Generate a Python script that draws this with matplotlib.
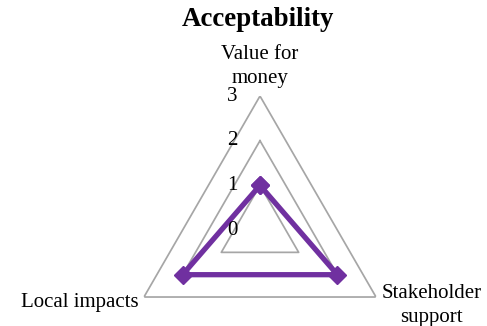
import numpy as np
import matplotlib.pyplot as plt

plt.rcParams["font.family"] = ["Liberation Serif", "DejaVu Serif"]

categories = ["Value for\nmoney", "Stakeholder\nsupport", "Local impacts"]
values = [1, 2, 2]
levels = [1, 2, 3]
tick_labels = ["0", "1", "2", "3"]

angles = np.linspace(0, 2 * np.pi, len(categories), endpoint=False)
closed = np.append(angles, angles[0])

fig = plt.figure(figsize=(4.87, 3.26), dpi=100)
ax = fig.add_axes([0.2587, -0.1166, 0.5503, 0.822], projection="polar")
ax.set_theta_offset(np.pi / 2)
ax.set_theta_direction(-1)
ax.set_ylim(0, 3)
ax.grid(False)
ax.spines["polar"].set_visible(False)
ax.set_xticks([])
ax.set_yticks([])
ax.patch.set_alpha(0)

# triangular gridlines
for lv in levels:
    ax.plot(closed, [lv] * len(closed), color="#a6a6a6", lw=1.25, zorder=1)

# data series
ax.plot(closed, values + values[:1], color="#7030a0", lw=3.8,
        marker="D", markersize=9, zorder=3, clip_on=False)

# value labels along the vertical axis
for i, lab in enumerate(tick_labels):
    ax.annotate(lab, xy=(0, i), xytext=(-20, 0), textcoords="offset points",
                ha="center", va="center", fontsize=15, annotation_clip=False)

# category labels
ax.annotate(categories[0], xy=(angles[0], 3), xytext=(0, 6), textcoords="offset points",
            ha="center", va="bottom", fontsize=15, linespacing=1.35, annotation_clip=False)
ax.annotate(categories[1], xy=(angles[1], 3), xytext=(4, -6), textcoords="offset points",
            ha="left", va="center", fontsize=15, multialignment="center",
            linespacing=1.35, annotation_clip=False)
ax.annotate(categories[2], xy=(angles[2], 3), xytext=(-4, -4), textcoords="offset points",
            ha="right", va="center", fontsize=15, annotation_clip=False)

fig.text(0.53, 0.94, "Acceptability", ha="center", va="center",
         fontsize=19.4, fontweight="bold")

fig.savefig("out.png", dpi=100)
